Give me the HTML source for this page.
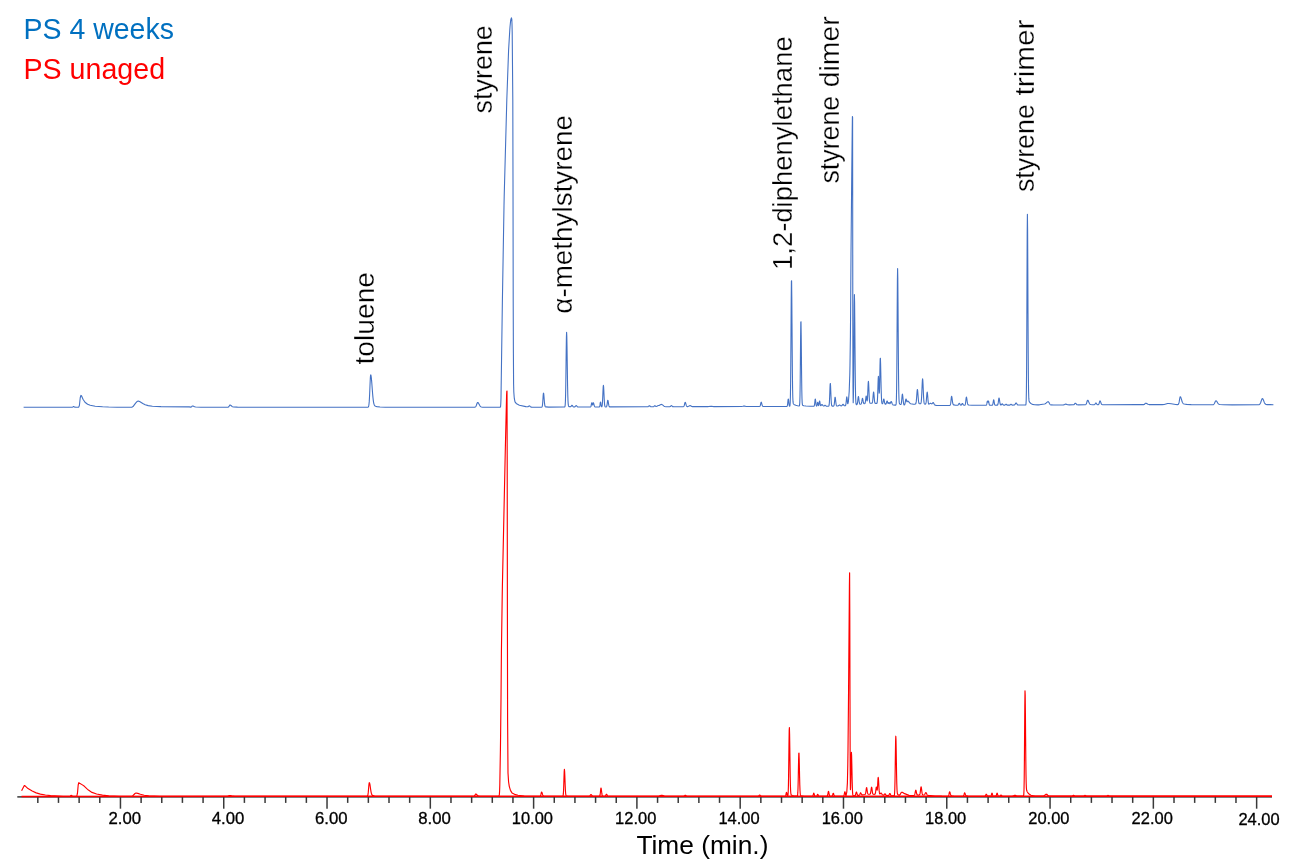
<!DOCTYPE html>
<html lang="en"><head><meta charset="utf-8"><title>PS chromatogram</title>
<style>
html,body{margin:0;padding:0;background:#fff;}
body{width:1296px;height:865px;overflow:hidden;font-family:"Liberation Sans",sans-serif;}
svg{display:block;}
text{font-family:"Liberation Sans",sans-serif;}
</style></head><body>
<svg width="1296" height="865" viewBox="0 0 1296 865">
<rect width="1296" height="865" fill="#fff"/>
<g stroke="#3a3a3a" stroke-width="1.5" fill="none">
<line x1="17.3" y1="796.9" x2="1272" y2="796.9" stroke="#555" stroke-width="1.6"/>
<line x1="37.82" y1="797" x2="37.82" y2="802.9"/><line x1="58.48" y1="797" x2="58.48" y2="802.9"/><line x1="79.13" y1="797" x2="79.13" y2="802.9"/><line x1="99.79" y1="797" x2="99.79" y2="802.9"/><line x1="120.45" y1="797" x2="120.45" y2="808.7"/><line x1="141.11" y1="797" x2="141.11" y2="802.9"/><line x1="161.77" y1="797" x2="161.77" y2="802.9"/><line x1="182.42" y1="797" x2="182.42" y2="802.9"/><line x1="203.08" y1="797" x2="203.08" y2="802.9"/><line x1="223.74" y1="797" x2="223.74" y2="808.7"/><line x1="244.40" y1="797" x2="244.40" y2="802.9"/><line x1="265.06" y1="797" x2="265.06" y2="802.9"/><line x1="285.71" y1="797" x2="285.71" y2="802.9"/><line x1="306.37" y1="797" x2="306.37" y2="802.9"/><line x1="327.03" y1="797" x2="327.03" y2="808.7"/><line x1="347.69" y1="797" x2="347.69" y2="802.9"/><line x1="368.35" y1="797" x2="368.35" y2="802.9"/><line x1="389.00" y1="797" x2="389.00" y2="802.9"/><line x1="409.66" y1="797" x2="409.66" y2="802.9"/><line x1="430.32" y1="797" x2="430.32" y2="808.7"/><line x1="450.98" y1="797" x2="450.98" y2="802.9"/><line x1="471.64" y1="797" x2="471.64" y2="802.9"/><line x1="492.29" y1="797" x2="492.29" y2="802.9"/><line x1="512.95" y1="797" x2="512.95" y2="802.9"/><line x1="533.61" y1="797" x2="533.61" y2="808.7"/><line x1="554.27" y1="797" x2="554.27" y2="802.9"/><line x1="574.93" y1="797" x2="574.93" y2="802.9"/><line x1="595.58" y1="797" x2="595.58" y2="802.9"/><line x1="616.24" y1="797" x2="616.24" y2="802.9"/><line x1="636.90" y1="797" x2="636.90" y2="808.7"/><line x1="657.56" y1="797" x2="657.56" y2="802.9"/><line x1="678.22" y1="797" x2="678.22" y2="802.9"/><line x1="698.87" y1="797" x2="698.87" y2="802.9"/><line x1="719.53" y1="797" x2="719.53" y2="802.9"/><line x1="740.19" y1="797" x2="740.19" y2="808.7"/><line x1="760.85" y1="797" x2="760.85" y2="802.9"/><line x1="781.51" y1="797" x2="781.51" y2="802.9"/><line x1="802.16" y1="797" x2="802.16" y2="802.9"/><line x1="822.82" y1="797" x2="822.82" y2="802.9"/><line x1="843.48" y1="797" x2="843.48" y2="808.7"/><line x1="864.14" y1="797" x2="864.14" y2="802.9"/><line x1="884.80" y1="797" x2="884.80" y2="802.9"/><line x1="905.45" y1="797" x2="905.45" y2="802.9"/><line x1="926.11" y1="797" x2="926.11" y2="802.9"/><line x1="946.77" y1="797" x2="946.77" y2="808.7"/><line x1="967.43" y1="797" x2="967.43" y2="802.9"/><line x1="988.09" y1="797" x2="988.09" y2="802.9"/><line x1="1008.74" y1="797" x2="1008.74" y2="802.9"/><line x1="1029.40" y1="797" x2="1029.40" y2="802.9"/><line x1="1050.06" y1="797" x2="1050.06" y2="808.7"/><line x1="1070.72" y1="797" x2="1070.72" y2="802.9"/><line x1="1091.38" y1="797" x2="1091.38" y2="802.9"/><line x1="1112.03" y1="797" x2="1112.03" y2="802.9"/><line x1="1132.69" y1="797" x2="1132.69" y2="802.9"/><line x1="1153.35" y1="797" x2="1153.35" y2="808.7"/><line x1="1174.01" y1="797" x2="1174.01" y2="802.9"/><line x1="1194.67" y1="797" x2="1194.67" y2="802.9"/><line x1="1215.32" y1="797" x2="1215.32" y2="802.9"/><line x1="1235.98" y1="797" x2="1235.98" y2="802.9"/><line x1="1256.64" y1="797" x2="1256.64" y2="808.7"/>
</g>
<path d="M23.60 407.20L72.20 407.18L72.80 406.95L73.40 406.60L73.60 406.60L74.60 407.14L76 407.21L78.60 407.21L79.40 405.50L80.20 398L80.80 395.69L81 395.40L81.60 396L83 399.30L85 402.20L87.60 404.24L90.20 405.24L95.20 406.22L102.60 406.75L108.60 407.04L117 407.22L131.80 407.22L133 406.60L135.60 403.09L137.20 401.41L137.60 401.20L138.20 401L139.60 401.56L142.80 403.43L145.20 404.67L148.20 405.63L152.40 406.22L161 406.61L189.20 406.84L190.80 407.09L191.20 407.01L191.80 406.48L192.20 406.10L192.40 406L193 406.07L194.60 406.80L195.80 407.02L201 407.20L228 407.20L228.40 407.07L228.80 406.72L229.20 406.07L229.60 405.33L229.80 405.09L230 405L230.40 405.09L231 405.51L232 406.40L232.60 406.73L233.60 406.96L237.40 407.17L254.60 407.25L367.80 407.23L368.20 407.05L368.40 406.79L368.60 406.31L368.80 405.45L369 404.03L369.20 401.88L369.40 398.84L369.60 394.91L369.80 390.26L370 385.32L370.20 380.69L370.40 377.08L370.60 375.09L370.80 374.91L371 375.52L371.20 376.72L371.40 378.44L371.60 380.59L371.80 383.05L372.40 391.06L372.60 393.57L372.80 395.87L373 397.91L373.20 399.67L373.40 401.15L373.60 402.37L373.80 403.34L374 404.10L374.20 404.69L374.40 405.14L374.60 405.47L375 405.92L375.60 406.26L377 406.63L380 407L385.20 407.21L417 407.28L474.60 407.26L475.20 407.08L475.60 406.76L475.80 406.50L476 406.16L476.40 405.23L477 403.53L477.20 403.05L477.40 402.69L477.60 402.51L477.80 402.49L478 402.58L478.40 403L478.80 403.67L479.80 405.57L480.20 406.15L480.80 406.72L481.40 407.01L482.60 407.19L492.60 407.30L500.20 407.30L500.60 406.26L500.80 403.33L501 398L502.40 300L504 205.88L504.20 196.30L506.80 100L508.60 50L509.80 29.69L510 27L510.60 21L510.80 19.69L511.40 17.80L511.80 19.16L512 23.67L512.20 32L512.80 100L513 180L513.20 300L513.40 353.33L513.60 384L513.80 392L514.20 397.20L514.40 398.97L515 401.80L516.40 403.67L516.60 403.85L519.40 405.22L525.80 406.63L527.60 406.79L528.20 406.63L529 406.02L529.40 405.90L529.80 406.11L530.60 406.89L531 407.11L532.40 407.19L541.60 407.14L541.80 407.08L542 406.91L542.20 406.48L542.40 405.54L542.60 403.84L542.80 401.27L543 398.11L543.20 395.10L543.40 393.24L543.60 393.16L543.80 394.50L544 396.81L544.20 399.49L544.40 401.98L544.60 403.95L544.80 405.29L545 406.10L545.20 406.54L545.40 406.76L545.80 406.91L548.80 407.09L564.40 407.07L564.60 407.03L564.80 406.86L565 406.33L565.20 404.86L565.40 401.43L565.60 394.64L565.80 383.35L566 367.87L566.20 350.96L566.40 337.48L566.60 332.30L566.80 336.07L567 346.28L567.20 360.12L567.40 374.33L567.60 386.39L567.80 395.16L568 400.74L568.20 403.86L568.40 405.43L568.60 406.14L568.80 406.45L569.20 406.65L570.20 406.80L570.60 406.74L571 406.45L571.60 405.59L571.80 405.38L572 405.30L572.20 405.39L572.40 405.63L573 406.55L573.40 406.88L574 407L574.60 406.92L575 406.69L575.80 405.81L576 405.66L576.20 405.60L576.40 405.66L576.80 406.04L577.40 406.70L577.80 406.93L578.60 407.03L590.40 406.97L590.60 406.89L590.80 406.67L591 406.18L591.20 405.31L591.40 404.16L591.60 403.13L591.80 402.70L592 403.08L592.20 403.97L592.40 404.76L592.60 404.94L592.80 404.38L593 403.43L593.20 402.72L593.40 402.68L593.60 403.12L593.80 403.85L594.20 405.49L594.40 406.10L594.60 406.51L594.80 406.76L595.20 406.95L599.20 406.95L599.40 406.86L599.60 406.58L599.80 405.89L600 404.66L600.20 403.12L600.40 402L600.60 402L600.80 403.12L601 404.65L601.20 405.88L601.40 406.56L601.60 406.79L601.80 406.72L602 406.31L602.20 405.32L602.40 403.36L602.60 400.09L602.80 395.60L603 390.70L603.20 386.80L603.40 385.30L603.60 386.58L603.80 390L604 394.46L604.20 398.81L604.40 402.25L604.60 404.55L604.80 405.87L605 406.52L605.20 406.80L605.60 406.93L606.20 406.92L606.40 406.84L606.60 406.63L606.80 406.15L607 405.22L607.20 403.82L607.40 402.15L607.60 400.75L607.80 400.20L608 400.55L608.20 401.48L608.60 404.04L608.80 405.13L609 405.93L609.20 406.43L609.40 406.70L609.80 406.90L647.80 406.77L648.20 406.64L648.60 406.33L649.20 405.76L649.40 405.70L649.60 405.76L650.40 406.51L650.80 406.72L651.80 406.80L653.20 406.76L653.60 406.63L654 406.33L654.60 405.76L654.80 405.70L655 405.75L655.80 406.41L656.20 406.51L656.80 406.29L657.80 405.68L658.60 405.49L659.40 405.34L660.40 404.77L661 404.47L661.60 404.42L662.20 404.68L664 406.13L664.80 406.51L666 406.72L669.80 406.70L670.20 406.57L670.60 406.25L671.20 405.66L671.40 405.60L671.60 405.66L672.40 406.43L672.80 406.65L673.80 406.73L683.20 406.68L683.60 406.55L683.80 406.37L684 406.04L684.20 405.52L684.40 404.81L684.80 403.14L685 402.53L685.20 402.30L685.40 402.47L685.60 402.95L686.20 405.09L686.40 405.66L686.60 406.08L686.80 406.35L687.20 406.59L687.80 406.59L688.60 406.28L689.60 405.68L690 405.60L690.60 405.78L691.80 406.46L692.60 406.63L708.40 406.58L711 406.20L712.40 406.40L714 406.59L741.60 406.49L742.80 406.26L743.80 406.01L744.60 406.08L746 406.43L748.80 406.49L759.40 406.45L759.80 406.33L760 406.14L760.20 405.75L760.40 405.11L760.60 404.23L760.80 403.26L761 402.50L761.20 402.20L761.40 402.42L761.60 403.01L762 404.62L762.20 405.31L762.40 405.81L762.60 406.13L762.80 406.30L763.20 406.43L786.80 406.35L787 406.28L787.20 406.04L787.40 405.44L787.60 404.24L787.80 402.41L788 400.38L788.20 399L788.40 399L788.60 400.37L788.80 402.40L789 404.23L789.20 405.43L789.40 406.02L789.60 406.21L789.80 406.07L790 405.31L790.20 402.89L790.40 396.70L790.60 383.68L790.80 361.45L791 331.40L791.20 300.89L791.40 281.25L791.60 280.75L791.80 297L792 323.36L792.20 351.21L792.40 373.92L792.60 389.02L792.80 397.43L793 401.43L793.20 403.11L793.40 403.78L793.60 404.08L794.40 404.65L795.80 405.28L797.60 405.75L799 405.96L799.20 405.94L799.40 405.75L799.60 404.94L799.80 402.27L800 395.44L800.20 381.79L800.40 360.94L800.60 337.85L800.80 322.20L801 321.80L801.20 334.81L801.40 355.07L801.60 375.07L801.80 389.91L802 398.66L802.20 402.87L802.40 404.56L802.60 405.16L802.80 405.38L803.80 405.71L806 406.05L810 406.25L813.80 406.24L814 406.17L814.20 405.94L814.40 405.35L814.60 404.19L814.80 402.41L815 400.44L815.20 399.10L815.40 399.10L815.60 400.44L815.80 402.41L816 404.18L816.20 405.35L816.40 405.91L816.60 406.08L816.80 405.93L817 405.41L817.20 404.46L817.40 403.27L817.60 402.40L817.80 402.40L818 403.26L818.20 404.42L818.40 405.28L818.60 405.55L818.80 405.16L819 404.16L819.20 402.77L819.40 401.52L819.60 401L819.80 401.50L820 402.74L820.20 404.10L820.40 405.10L820.60 405.60L820.80 405.70L821 405.57L821.60 404.76L821.80 404.57L822 404.50L822.20 404.57L822.60 405.02L823 405.59L823.40 405.96L823.80 406.07L824.20 405.88L824.80 405.27L825 405.20L825.20 405.27L825.80 405.88L826.20 406.12L827.20 406.19L828.60 406.13L828.80 405.98L829 405.55L829.20 404.43L829.40 402.09L829.60 398.08L829.80 392.67L830 387.18L830.20 383.64L830.40 383.56L830.60 386.58L830.80 391.46L831 396.60L831.20 400.77L831.40 403.52L831.60 405.04L831.80 405.74L832 406.02L832.40 406.13L833.40 406.11L833.60 406.05L833.80 405.88L834 405.45L834.20 404.53L834.40 402.97L834.80 398.71L835 397.33L835.20 397.27L835.40 398.29L835.60 399.98L835.80 401.86L836 403.49L836.20 404.68L836.40 405.41L836.60 405.80L836.80 405.97L837.40 406.06L838 405.95L838.60 405.59L839.20 405.09L839.60 405L840 405.21L840.60 405.69L841.20 405.90L841.60 405.83L842 405.52L842.60 404.62L842.80 404.39L843 404.30L843.20 404.37L843.60 404.89L844 405.44L844.40 405.73L845 405.81L845.40 405.67L845.60 405.39L845.80 404.74L846 403.52L846.20 401.67L846.40 399.48L846.60 397.63L846.80 396.90L847 397.61L847.20 399.43L847.40 401.59L847.60 403.42L847.80 403.70L848 403.28L848.20 402.49L848.40 401.52L849.20 391.50L849.80 374.31L850 364.44L850.40 336.40L850.60 313.83L850.80 282.70L851 254.02L851.60 189.96L851.80 169.89L852.20 132.31L852.40 116.48L852.60 117.30L852.80 319.03L853 387.19L853.20 402.65L853.40 396.79L853.60 383.96L853.80 361.51L854 332.02L854.20 305.46L854.40 294.60L854.60 302.22L854.80 322.09L855 347.05L855.20 369.88L855.40 386.52L855.60 396.52L855.80 401.55L856 403.69L856.20 404.45L856.40 404.67L856.60 404.69L856.80 404.62L857 404.44L857.20 404.05L857.40 403.29L857.60 402.06L857.80 400.38L858 398.55L858.20 397.08L858.40 396.50L858.60 397.03L858.80 398.44L859 400.22L859.20 401.84L859.40 403.02L859.60 403.72L859.80 404.06L860 404.18L860.60 404.17L861 404.03L861.20 403.83L861.40 403.43L861.60 402.73L861.80 401.68L862.20 399.18L862.40 398.41L862.60 398.39L862.80 399.10L863.20 401.51L863.40 402.50L863.60 403.16L863.80 403.50L864 403.65L864.40 403.69L864.80 403.55L865 403.30L865.20 402.73L865.40 401.68L865.60 400.09L865.80 398.22L866 396.64L866.20 396L866.40 396.59L866.60 398.08L866.80 399.77L867 400.89L867.20 400.89L867.40 399.40L867.60 396.27L867.80 391.75L868 386.75L868.20 382.74L868.40 381.20L868.60 382.73L868.80 386.71L869 391.72L869.20 396.30L869.40 399.64L869.60 401.65L869.80 402.66L870 403.09L870.20 403.24L871.40 403.30L871.80 403.27L872 403.19L872.20 402.96L872.40 402.45L872.60 401.42L872.80 399.72L873 397.37L873.20 394.82L873.40 392.78L873.60 392L873.80 392.79L874 394.84L874.20 397.41L874.40 399.76L874.60 401.48L874.80 402.51L875 403.04L875.20 403.27L875.60 403.40L876.60 403.44L876.80 403.36L877 403.07L877.20 402.24L877.40 400.28L877.60 396.55L877.80 390.85L878 384.11L878.20 378.44L878.40 376.20L878.60 378.38L878.80 383.79L879 389.69L879.20 393.19L879.40 392.24L879.60 386.20L879.80 376.21L880 365.51L880.20 358.52L880.40 358.28L880.60 363.54L880.80 372.29L881 381.98L881.20 390.45L881.40 396.59L881.60 400.39L881.80 402.41L882 403.35L882.20 403.70L882.40 403.76L882.60 403.58L882.80 403.15L883 402.40L883.20 401.37L883.40 400.23L883.60 399.33L883.80 399L884 399.37L884.20 400.32L884.40 401.49L884.60 402.57L884.80 403.36L885 403.85L885.20 404.10L885.40 404.21L885.60 404.22L885.80 404.15L886 403.94L886.20 403.54L886.40 402.92L886.80 401.43L887 400.99L887.20 401.01L887.40 401.48L887.80 402.91L888 403.38L888.20 403.50L888.40 403.31L888.80 402.63L889 402.50L889.20 402.64L889.60 403.34L889.80 403.59L890 403.61L890.20 403.38L890.40 402.96L890.80 401.96L891 401.61L891.20 401.50L891.40 401.65L891.60 402.04L892.20 403.72L892.40 404.17L892.60 404.51L892.80 404.74L893.20 404.96L895 405.15L895.60 405.16L895.80 405.07L896 404.63L896.20 403.14L896.40 398.91L896.60 389.06L896.80 370.36L897 341.83L897.20 308.06L897.40 279.69L897.60 268.50L897.80 277.72L898 301.81L898.20 332.15L898.40 360.05L898.60 380.51L898.80 392.93L899 399.31L899.20 402.15L899.40 403.30L899.60 403.76L900 404.15L900.60 404.45L900.80 404.46L901 404.33L901.20 403.90L901.40 402.98L901.60 401.39L901.80 399.17L902 396.75L902.20 394.82L902.40 394.10L902.60 394.70L902.80 396.25L903.20 400.46L903.40 402.25L903.60 403.56L903.80 404.38L904 404.83L904.20 405.01L904.40 404.99L904.60 404.77L904.80 404.33L905 403.61L905.20 402.60L905.60 400.24L905.80 399.36L906 399L906.20 399.23L906.40 399.92L906.60 400.77L906.80 401.48L907 401.82L907.20 401.76L907.60 401.12L907.80 401L908.20 401.17L908.60 401.55L909.60 402.90L910.20 403.46L910.80 403.74L913.40 404.23L914.80 404.21L915.40 404.08L915.60 403.92L915.80 403.61L916 402.99L916.20 401.89L916.40 400.17L916.60 397.80L917 392.28L917.20 390.26L917.40 389.50L917.60 390.22L917.80 392.21L918.20 397.65L918.40 399.99L918.60 401.67L918.80 402.74L919 403.32L919.20 403.61L919.60 403.77L920.40 403.75L920.60 403.67L920.80 403.45L921 402.95L921.20 401.92L921.40 400.06L921.60 397.11L921.80 393.04L922 388.24L922.20 383.54L922.40 380.07L922.60 378.80L922.80 380.11L923 383.61L923.20 388.34L923.40 393.18L923.60 397.28L923.80 400.26L924 402.15L924.20 403.21L924.40 403.74L924.60 403.99L925 404.15L925.40 404.14L925.60 404.01L925.80 403.66L926 402.94L926.20 401.65L926.40 399.71L926.80 394.73L927 392.81L927.20 392.10L927.40 392.86L927.60 394.83L928 399.88L928.20 401.83L928.40 403.11L928.60 403.80L928.80 404.09L929 404.13L929.40 403.90L930 403.43L930.40 403.29L930.80 403.38L931.60 403.83L931.80 403.84L932 403.76L932.40 403.33L932.80 402.80L933 402.64L933.20 402.60L933.40 402.71L933.60 402.97L934.40 404.47L934.80 404.97L935.20 405.22L936.20 405.36L944.40 405.43L949.80 405.37L950 405.31L950.20 405.13L950.40 404.71L950.60 403.88L950.80 402.51L951 400.63L951.20 398.57L951.40 396.93L951.60 396.30L951.80 396.70L952 397.81L952.40 400.96L952.60 402.35L952.80 403.39L953 404.07L953.20 404.48L953.40 404.71L953.80 404.91L955.60 405.19L957.40 405.27L957.80 405.20L958 405.09L958.20 404.90L958.40 404.61L959 403.50L959.20 403.30L959.40 403.30L959.60 403.51L960.20 404.63L960.40 404.91L960.60 405.09L960.80 405.17L961 405.15L961.20 405.05L961.40 404.84L962 403.85L962.20 403.59L962.40 403.50L962.60 403.59L962.80 403.85L963.40 404.84L963.80 405.20L964.40 405.32L964.80 405.25L965 405.09L965.20 404.71L965.40 403.96L965.60 402.72L965.80 401.02L966 399.15L966.20 397.67L966.40 397.10L966.60 397.48L966.80 398.53L967.20 401.47L967.40 402.75L967.60 403.70L967.80 404.32L968 404.68L968.20 404.87L968.80 405.06L971.80 405.25L986 405.23L986.20 405.20L986.40 405.07L986.60 404.71L986.80 403.95L987.20 401.65L987.40 401.10L987.60 401.36L987.80 401.93L988 402.07L988.40 401.04L988.60 401.16L988.80 402.10L989 403.35L989.20 404.35L989.40 404.91L989.60 405.14L990.20 405.22L992.20 405.17L992.40 405.06L992.60 404.80L992.80 404.25L993 403.30L993.40 400.73L993.60 399.90L993.80 399.90L994 400.73L994.40 403.30L994.60 404.24L994.80 404.79L995 405.05L995.40 405.19L997.20 405.17L997.40 405.12L997.60 404.97L997.80 404.64L998 403.99L998.20 402.91L998.40 401.42L998.60 399.79L998.80 398.50L999 398L999.20 398.37L999.40 399.36L999.80 402.09L1000 403.25L1000.20 404.10L1000.40 404.63L1000.60 404.92L1000.80 405.03L1001 405.03L1001.20 404.93L1001.40 404.73L1002 403.90L1002.20 403.80L1002.40 403.89L1003 404.73L1003.20 404.94L1003.60 405.12L1004.60 405.13L1005 405L1005.40 404.66L1005.80 404.27L1006 404.20L1006.20 404.26L1007 404.99L1007.60 405.13L1009.60 405.11L1010 405L1010.80 404.36L1011 404.30L1011.20 404.36L1012 404.99L1012.60 405.11L1014.20 405.06L1014.60 404.89L1015 404.48L1015.80 403.16L1016 403L1016.20 403L1016.40 403.16L1016.80 403.81L1017.20 404.47L1017.60 404.88L1018.20 405.07L1025.40 405.06L1025.60 405.02L1025.80 404.81L1026 403.85L1026.20 400.43L1026.40 390.64L1026.60 368.53L1026.80 329.78L1027 278.87L1027.20 233.02L1027.40 214.30L1027.60 229.34L1027.80 267.64L1028 313.47L1028.20 352.44L1028.40 378.21L1028.60 392.01L1028.80 398.17L1029 400.57L1029.20 401.50L1029.40 401.94L1029.80 402.48L1030.60 403.26L1031.60 403.91L1032.80 404.38L1034.60 404.73L1037.40 404.92L1039.40 404.83L1042.80 404.22L1044.40 404.06L1045.20 403.77L1046 403.20L1047.20 402.11L1047.80 401.76L1048.20 401.70L1048.40 401.77L1048.60 401.96L1049 402.60L1049.60 403.74L1050 404.31L1050.40 404.66L1051 404.89L1053.60 404.94L1063.40 404.85L1064.40 404.60L1065.40 404.16L1066 404.11L1066.80 404.40L1067.80 404.77L1069.20 404.87L1073.40 404.82L1074 404.62L1074.40 404.25L1075 403.45L1075.20 403.27L1075.40 403.20L1075.60 403.26L1076 403.70L1076.60 404.45L1077 404.71L1077.80 404.83L1085.20 404.77L1085.60 404.66L1086 404.33L1086.20 404.03L1086.40 403.59L1086.60 403.03L1087.20 401.01L1087.40 400.49L1087.60 400.21L1087.80 400.19L1088 400.35L1088.20 400.66L1088.60 401.58L1089.20 403.09L1089.60 403.80L1090 404.23L1090.60 404.51L1092.40 404.68L1094.20 404.68L1094.60 404.54L1094.80 404.37L1095.20 403.81L1095.60 403.17L1095.80 403L1096 403L1096.20 403.17L1096.80 404.13L1097 404.38L1097.40 404.65L1098 404.71L1098.40 404.60L1098.60 404.45L1098.80 404.16L1099 403.71L1099.20 403.09L1099.60 401.63L1099.80 401.10L1100 400.90L1100.20 401.02L1100.40 401.36L1100.80 402.43L1101.20 403.51L1101.40 403.92L1101.60 404.23L1102 404.57L1102.60 404.70L1137.40 404.62L1143.80 404.60L1144.40 404.38L1144.80 404L1145.40 403.32L1145.60 403.20L1146.20 403.29L1148 404.33L1149 404.59L1152.80 404.67L1162.20 404.65L1164.20 404.43L1167.60 403.57L1169 403.51L1171.20 403.76L1175.60 404.49L1177.60 404.63L1178 404.55L1178.20 404.44L1178.40 404.24L1178.60 403.90L1178.80 403.37L1179 402.63L1179.20 401.67L1179.80 398.19L1180 397.30L1180.20 396.82L1180.40 396.78L1180.60 396.97L1180.80 397.33L1181 397.84L1181.40 399.16L1182 401.24L1182.20 401.82L1182.40 402.31L1182.60 402.72L1183 403.31L1183.40 403.66L1184.20 403.99L1186.60 404.36L1191.20 404.65L1202.60 404.81L1212.60 404.81L1213.20 404.69L1213.60 404.47L1214 404.07L1214.40 403.44L1215.40 401.36L1215.60 401.06L1215.80 400.87L1216 400.80L1216.20 400.84L1216.60 401.16L1217 401.74L1217.80 403.09L1218.40 403.84L1219 404.26L1220 404.53L1223.40 404.78L1232.20 404.88L1258.60 404.73L1259.20 404.59L1259.60 404.36L1260 403.93L1260.40 403.23L1260.80 402.23L1261.60 399.83L1261.80 399.33L1262 398.93L1262.20 398.69L1262.40 398.60L1262.60 398.66L1262.80 398.86L1263 399.17L1263.40 400.06L1264.20 402.18L1264.60 403.05L1265 403.68L1265.40 404.10L1266 404.42L1267.20 404.60L1273.40 404.68" fill="none" stroke="#4472c4" stroke-width="1.1" stroke-linejoin="round"/>
<line x1="21.5" y1="796.4" x2="1272" y2="796.25" stroke="#ff0000" stroke-width="1.5"/>
<path d="M21.60 790.71L24.20 785.69L24.40 785.56L25.60 786.30L28 788.60L32.20 791.09L36.20 792.86L40.40 794.08L45.40 795.05L50.60 795.63L63.20 796.21L68.20 796.30L69.60 796.23L70.20 795.94L71 795.34L71.40 795.34L72.40 796.07L73 796.27L76.80 796.30L77.40 793.47L77.60 791.86L78.20 785L78.80 782.70L82.40 784.88L84.40 786.30L86.80 788.67L88.40 790.06L92 792.40L96.60 793.96L102.40 795.14L108.80 795.82L119.60 796.22L130 796.31L132.20 796.31L135 793.50L136 793L137.80 793.41L140.40 794.30L144.20 795.23L148.80 795.82L159.60 796.22L169.60 796.31L226.40 796.28L227.80 796.07L229.60 795.63L230.60 795.66L232.80 796.19L234.80 796.31L367 796.30L367.40 796.11L367.60 795.83L367.80 795.30L368 794.36L368.20 792.92L368.40 790.93L368.80 786.06L369 783.99L369.20 782.80L369.40 782.70L369.60 783.09L369.80 783.86L370 784.94L370.20 786.23L370.60 789.05L370.80 790.39L371 791.58L371.20 792.59L371.40 793.42L371.60 794.06L371.80 794.55L372 794.92L372.40 795.37L373 795.68L374.60 796L377.80 796.24L388.60 796.33L473.60 796.32L474.20 796.16L474.60 795.79L475 795.11L475.40 794.35L475.60 794.09L475.80 794L476.20 794.13L476.80 794.72L477.60 795.60L478.20 795.97L479.20 796.18L485.40 796.32L498.80 796.34L499 795.92L499.40 794.38L499.60 791L499.80 785L500.40 750.71L500.60 735.83L501 699.17L501.20 675L501.40 653L502.20 597L502.40 585.33L505.20 454.67L505.40 445.78L506.60 395.11L506.80 391.50L507 391L507.20 456.50L507.40 613.33L507.60 720L508 773L508.60 782L509.20 785.86L509.40 786.83L510.40 790.17L510.60 790.66L512 792.90L514.60 794.33L518 795.24L524.20 796.11L531.40 796.34L539.80 796.33L540.20 796.22L540.40 796.02L540.60 795.62L540.80 794.97L541 794.07L541.20 793.08L541.40 792.30L541.60 792L541.80 792.15L542 792.57L542.60 794.51L542.80 795.05L543 795.46L543.20 795.75L543.60 796.03L544.60 796.20L549.60 796.33L562.60 796.32L562.80 796.23L563 795.94L563.20 795.10L563.40 793.16L563.60 789.47L563.80 783.85L564 777.20L564.20 771.61L564.40 769.40L564.60 770.95L564.80 775.10L565 780.55L565.20 785.88L565.40 790.12L565.60 792.97L565.80 794.62L566 795.45L566.20 795.83L566.40 795.99L567.40 796.17L571.60 796.33L589 796.32L589.40 796.21L589.80 795.92L590.20 795.38L590.60 794.78L590.80 794.57L591 794.50L591.20 794.57L591.40 794.78L592 795.68L592.40 796.09L592.80 796.28L594.40 796.35L599.40 796.31L599.60 796.22L599.80 795.96L600 795.36L600.20 794.22L600.40 792.48L600.60 790.42L600.80 788.68L601 788L601.20 788.50L601.40 789.81L601.80 793.21L602 794.54L602.20 795.42L602.40 795.93L602.60 796.18L603 796.33L604.80 796.30L605.20 796.11L605.40 795.91L605.60 795.60L606.20 794.41L606.40 794.20L606.60 794.20L606.80 794.41L607.40 795.60L607.60 795.91L607.80 796.11L608.20 796.30L612.80 796.35L657.80 796.29L659 796.12L661.20 795.35L662 795.32L663 795.62L664.40 796.12L665.80 796.30L683.60 796.29L684.20 796.09L685 795.31L685.20 795.20L685.40 795.20L685.80 795.50L686.40 796.09L687 796.29L758 796.26L758.40 796.16L758.80 795.88L759.40 795.22L759.60 795.10L759.80 795.10L760 795.22L760.80 796.04L761.20 796.23L763.20 796.29L785 796.27L785.20 796.23L785.40 796.11L785.60 795.79L785.80 795.16L786 794.19L786.20 793.12L786.40 792.40L786.60 792.40L786.80 793.12L787 794.19L787.20 795.15L787.40 795.77L787.60 796L787.80 795.82L788 794.85L788.20 792.17L788.40 786.21L788.60 775.48L788.80 760.04L789 743.07L789.20 730.41L789.40 727.46L789.60 734.17L789.80 747.38L790 762.56L790.20 775.72L790.40 784.95L790.60 790.35L790.80 793.05L791 794.25L791.20 794.76L791.40 795L792.20 795.45L793.60 795.86L795.80 796.14L797 796.18L797.20 796.12L797.40 795.85L797.60 795.03L797.80 792.91L798 788.44L798.20 780.81L798.40 770.50L798.60 760.03L798.80 753.29L799 753.11L799.20 758.68L799.40 767.73L799.60 777.31L799.80 785.13L800 790.35L800.20 793.27L800.40 794.67L800.60 795.27L800.80 795.52L801.40 795.76L803.40 796.09L807.40 796.25L812.20 796.26L812.60 796.13L812.80 795.91L813 795.49L813.20 794.85L813.40 794.09L813.60 793.45L813.80 793.20L814 793.45L814.20 794.09L814.40 794.85L814.60 795.49L814.80 795.91L815 796.13L815.40 796.26L816.40 796.21L816.60 796.12L816.80 795.91L817 795.56L817.40 794.61L817.60 794.30L817.80 794.30L818 794.61L818.40 795.56L818.60 795.91L818.80 796.12L819.20 796.25L827 796.22L827.20 796.13L827.40 795.88L827.60 795.36L827.80 794.48L828.20 792.08L828.40 791.30L828.60 791.30L828.80 792.08L829.20 794.48L829.40 795.36L829.60 795.88L829.80 796.13L830.20 796.25L831.80 796.21L832 796.11L832.20 795.91L832.40 795.53L832.60 794.97L833 793.61L833.20 793.20L833.40 793.20L833.60 793.61L834 794.97L834.20 795.53L834.40 795.91L834.60 796.11L835 796.24L843.20 796.22L843.60 796.11L843.80 795.88L844 795.41L844.20 794.60L844.60 792.41L844.80 791.70L845 791.70L845.20 792.40L845.60 794.58L845.80 795.38L846 795.85L846.40 794L846.80 791.92L847.40 782.91L847.80 764.50L848 749.90L848.40 709.88L848.60 687.25L849.40 586.17L849.60 572.83L849.80 619.78L850 699.55L850.20 768.76L850.40 789.61L850.60 787.68L850.80 778.79L851 767.12L851.20 756.60L851.40 752.30L851.60 755.31L851.80 763.18L852 773.06L852.20 782.09L852.40 788.68L852.60 792.64L852.80 794.63L853 795.47L853.20 795.77L853.60 795.86L854.80 795.73L855 795.64L855.20 795.45L855.40 795.11L855.60 794.54L856 792.94L856.20 792.27L856.40 792L856.60 792.23L856.80 792.85L857.20 794.37L857.40 794.89L857.60 795.19L857.80 795.33L858.40 795.36L859.20 795.19L859.40 795.06L859.60 794.83L859.80 794.46L860.20 793.42L860.40 792.98L860.60 792.80L860.80 792.93L861 793.31L861.40 794.24L861.60 794.55L861.80 794.73L862.20 794.82L864.80 794.50L865 794.43L865.20 794.27L865.40 793.94L865.60 793.31L865.80 792.27L866 790.86L866.20 789.32L866.40 788.08L866.60 787.60L866.80 788.05L867 789.25L867.20 790.76L867.40 792.15L867.60 793.15L867.80 793.75L868 794.05L868.20 794.17L869.40 794.20L870 794.13L870.20 793.99L870.40 793.67L870.60 793.03L870.80 791.98L871 790.53L871.20 788.94L871.40 787.68L871.60 787.20L871.80 787.69L872 788.96L872.20 790.55L872.40 792.01L872.60 793.08L872.80 793.72L873 794.05L873.20 794.20L874.20 794.32L874.80 794.28L875 794.15L875.20 793.82L875.40 793.16L875.60 792.04L875.80 790.52L876 788.84L876.20 787.51L876.40 787L876.60 787.48L877 789.81L877.20 790.12L877.40 788.90L877.60 785.98L877.80 782.07L878 778.64L878.20 777.30L878.40 778.36L878.60 781.11L878.80 784.69L879 788.16L879.20 790.89L879.40 792.68L879.60 793.63L879.80 793.99L880 793.98L880.40 793.51L880.60 793.24L880.80 793.05L881 793L881.20 793.10L881.40 793.32L882 794.31L882.40 794.78L882.80 795.01L883.40 795.12L883.80 795.07L884 794.96L884.20 794.75L884.80 793.88L885 793.80L885.20 793.92L885.80 794.90L886 795.15L886.40 795.39L888 795.56L888.40 795.49L888.60 795.38L888.80 795.18L889 794.88L889.60 793.70L889.80 793.49L890 793.51L890.20 793.74L890.80 795.01L891 795.34L891.20 795.57L891.60 795.78L893.60 795.94L894 795.90L894.20 795.71L894.40 795.06L894.60 793.22L894.80 788.91L895 780.74L895.20 768.26L895.40 753.49L895.60 741.09L895.80 736.20L896 740.09L896.20 750.28L896.40 763.20L896.60 775.15L896.80 783.99L897 789.42L897.20 792.27L897.40 793.60L897.60 794.20L897.80 794.49L898.40 794.93L899 795.16L899.40 795.15L899.80 794.94L900.20 794.47L900.80 793.35L901.20 792.61L901.40 792.35L901.60 792.21L902.20 792.25L903 792.64L904.60 793.65L909 795.35L910.40 795.59L912.60 795.51L914 795.35L914.20 795.27L914.40 795.10L914.60 794.78L914.80 794.23L915 793.41L915.40 791.32L915.60 790.51L915.80 790.20L916 790.48L916.20 791.26L916.60 793.28L916.80 794.07L917 794.59L917.20 794.88L917.40 795.02L918.20 795.07L919.20 795L919.40 794.93L919.60 794.75L919.80 794.39L920 793.72L920.20 792.62L920.40 791.11L920.60 789.39L920.80 787.83L921 786.90L921.20 786.90L921.40 787.83L921.60 789.39L921.80 791.12L922 792.62L922.20 793.72L922.40 794.40L922.60 794.76L922.80 794.93L923.40 795.05L924 795.01L924.40 794.83L924.60 794.64L924.80 794.35L925.40 793.12L925.60 792.78L925.80 792.59L926 792.61L926.20 792.83L926.40 793.20L927 794.52L927.20 794.84L927.60 795.21L928.20 795.39L935 795.96L941.80 796.18L948 796.20L948.20 796.15L948.40 796.01L948.60 795.69L948.80 795.09L949 794.17L949.20 793.08L949.40 792.16L949.60 791.80L949.80 791.99L950 792.50L950.40 793.98L950.60 794.64L950.80 795.14L951 795.48L951.20 795.68L951.60 795.87L953.60 796.10L959.80 796.21L963 796.20L963.40 796.05L963.60 795.81L963.80 795.34L964 794.63L964.20 793.79L964.40 793.08L964.60 792.80L964.80 792.94L965 793.34L965.60 795L965.80 795.38L966 795.64L966.40 795.89L967.80 796.07L973.20 796.20L984.80 796.17L985.20 795.97L985.40 795.73L985.60 795.36L986 794.47L986.20 794.20L986.40 794.20L986.60 794.47L987 795.36L987.20 795.73L987.40 795.97L987.80 796.17L990.40 796.19L990.80 796.06L991 795.84L991.20 795.41L991.40 794.76L991.60 794L991.80 793.35L992 793.10L992.20 793.35L992.40 794L992.60 794.76L992.80 795.41L993 795.84L993.20 796.06L993.60 796.19L995.60 796.18L995.80 796.12L996 795.96L996.20 795.64L996.40 795.09L996.80 793.59L997 793.10L997.20 793.10L997.40 793.59L997.80 795.09L998 795.64L998.20 795.96L998.40 796.11L999.20 796.20L999.80 796.11L1000.20 795.82L1000.80 795.08L1001 795L1001.20 795.08L1001.80 795.82L1002.20 796.11L1003 796.20L1012.40 796.16L1013.20 796.01L1014.60 795.37L1015.20 795.32L1016 795.65L1016.80 796.01L1017.80 796.17L1023.20 796.17L1023.40 796.09L1023.60 795.72L1023.80 794.31L1024 790.03L1024.20 779.78L1024.40 760.58L1024.60 733.34L1024.80 705.97L1025 690.84L1025.20 694.67L1025.40 712.43L1025.60 736.55L1025.80 758.78L1026 774.54L1026.20 783.58L1026.40 787.96L1026.60 789.88L1026.80 790.77L1027 791.29L1027.40 792.04L1028 792.92L1028.80 793.81L1029.80 794.59L1031 795.20L1032.60 795.66L1035 795.98L1039.80 796.14L1042.60 796.09L1043.60 795.86L1044.40 795.42L1045.80 794.40L1046.40 794.20L1046.80 794.28L1047.20 794.62L1048 795.52L1048.60 795.95L1049.40 796.13L1071.60 796.12L1072.20 795.99L1073.20 795.37L1073.60 795.30L1074 795.48L1074.80 795.99L1075.60 796.13L1083.20 796.11L1083.80 795.97L1084.80 795.43L1085.20 795.43L1086.40 796.03L1087.40 796.13L1106.20 796.09L1106.80 795.95L1107.80 795.43L1108.20 795.43L1109.40 796.02L1110.60 796.12L1272 796" fill="none" stroke="#ff0000" stroke-width="1.15" stroke-linejoin="round"/>
<g font-size="16.2" fill="#000" stroke="#000" stroke-width="0.3" text-anchor="end"><text x="141.1" y="823.8" textLength="32.6" lengthAdjust="spacingAndGlyphs">2.00</text><text x="244.3" y="823.8" textLength="32.6" lengthAdjust="spacingAndGlyphs">4.00</text><text x="347.6" y="823.8" textLength="32.6" lengthAdjust="spacingAndGlyphs">6.00</text><text x="450.9" y="823.8" textLength="32.6" lengthAdjust="spacingAndGlyphs">8.00</text><text x="553.0" y="823.8" textLength="41.2" lengthAdjust="spacingAndGlyphs">10.00</text><text x="656.3" y="823.8" textLength="41.2" lengthAdjust="spacingAndGlyphs">12.00</text><text x="759.6" y="823.8" textLength="41.2" lengthAdjust="spacingAndGlyphs">14.00</text><text x="862.9" y="823.8" textLength="41.2" lengthAdjust="spacingAndGlyphs">16.00</text><text x="966.2" y="823.8" textLength="41.2" lengthAdjust="spacingAndGlyphs">18.00</text><text x="1069.5" y="823.8" textLength="41.2" lengthAdjust="spacingAndGlyphs">20.00</text><text x="1172.8" y="823.8" textLength="41.2" lengthAdjust="spacingAndGlyphs">22.00</text><text x="1279.6" y="824.6" textLength="41.2" lengthAdjust="spacingAndGlyphs">24.00</text></g>
<text x="636.4" y="853.7" font-size="25.8" textLength="132" lengthAdjust="spacingAndGlyphs" fill="#000">Time (min.)</text>
<g fill="#000" stroke="#fff" stroke-width="0.3"><text transform="translate(374.1 364.5) rotate(-90)" font-size="27.0" textLength="92.5" lengthAdjust="spacingAndGlyphs">toluene</text><text transform="translate(491.9 113.4) rotate(-90)" font-size="27.0" textLength="88.2" lengthAdjust="spacingAndGlyphs">styrene</text><text transform="translate(572.0 313.7) rotate(-90)" font-size="27.0" textLength="198.6" lengthAdjust="spacingAndGlyphs">α-methylstyrene</text><text transform="translate(792.0 270.0) rotate(-90)" font-size="27.0" textLength="233.7" lengthAdjust="spacingAndGlyphs">1,2-diphenylethane</text><text transform="translate(839.0 183.5) rotate(-90)" font-size="27.0" textLength="87.7" lengthAdjust="spacingAndGlyphs">styrene</text><text transform="translate(839.0 87.2) rotate(-90)" font-size="27.0" textLength="70.8" lengthAdjust="spacingAndGlyphs">dimer</text><text transform="translate(1034.0 192.1) rotate(-90)" font-size="27.0" textLength="88.0" lengthAdjust="spacingAndGlyphs">styrene</text><text transform="translate(1034.0 95.5) rotate(-90)" font-size="27.0" textLength="75.9" lengthAdjust="spacingAndGlyphs">trimer</text></g>
<text x="23.5" y="38.9" font-size="29.7" textLength="150.4" lengthAdjust="spacingAndGlyphs" fill="#0070c0">PS 4 weeks</text>
<text x="23.5" y="78.9" font-size="29.7" textLength="141.6" lengthAdjust="spacingAndGlyphs" fill="#ff0000">PS unaged</text>
</svg>
</body></html>
